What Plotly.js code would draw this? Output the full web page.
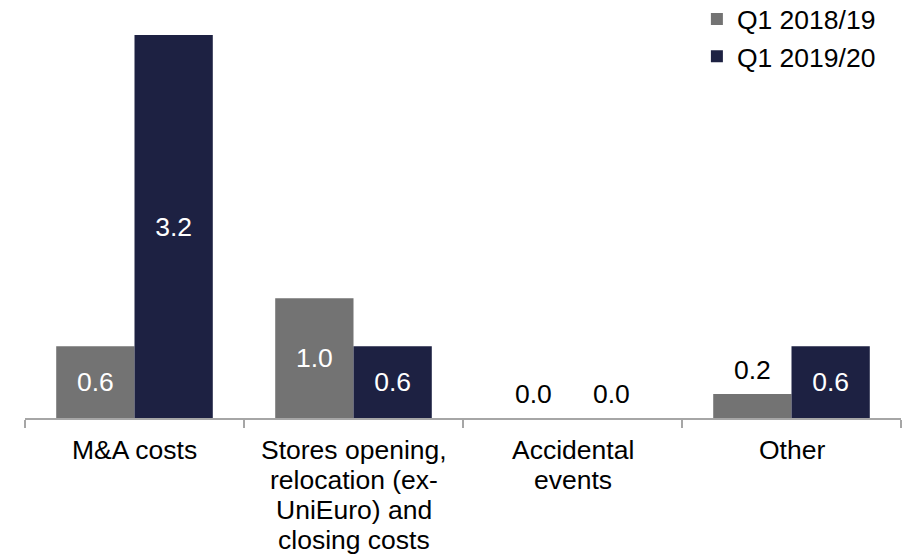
<!DOCTYPE html>
<html>
<head>
<meta charset="utf-8">
<script src="https://cdn.plot.ly/plotly-3.0.1.min.js"></script>
<style>html,body{margin:0;padding:0;background:#fff;}#chart{width:912px;height:557px;}</style>
</head>
<body>
<div id="chart"></div>
<script>
var categories = ["M&A costs", "Stores opening,<br>relocation (ex-<br>UniEuro) and<br>closing costs", "Accidental<br>events", "Other"];
var seriesNames = ["Q1 2018/19", "Q1 2019/20"];
var q1_2018_19 = [0.6, 1.0, 0.0, 0.2];
var q1_2019_20 = [3.2, 0.6, 0.0, 0.6];

var colors = ["#737373", "#1D2142"];
var FONT = "Liberation Sans, Arial, sans-serif";
var FS = 26.5;
var threshold = 0.4;
var bargap = 0.285;
var half = (1 - bargap) / 4;

var allSeries = [q1_2018_19, q1_2019_20];
var traces = allSeries.map(function (vals, s) {
  return {
    type: "bar",
    name: seriesNames[s],
    x: categories,
    y: vals,
    marker: {color: colors[s], line: {width: 0}},
    text: vals.map(function (v) { return v >= threshold ? v.toFixed(1) : ""; }),
    textposition: "inside",
    insidetextanchor: "middle",
    textfont: {family: FONT, size: FS, color: "#ffffff"},
    cliponaxis: false,
    hoverinfo: "none"
  };
});

var annotations = [];
// value labels for small bars, above the bar
allSeries.forEach(function (vals, s) {
  vals.forEach(function (v, i) {
    if (v < threshold) {
      annotations.push({
        x: i + (s === 0 ? -half : half),
        y: v,
        xref: "x", yref: "y",
        text: v.toFixed(1),
        showarrow: false,
        yanchor: "bottom",
        yshift: 7,
        font: {family: FONT, size: FS, color: "#000000"}
      });
    }
  });
});
// category labels (tight line spacing), one annotation per line
categories.forEach(function (c, i) {
  c.split("<br>").forEach(function (line, k) {
    annotations.push({
      x: i, y: 0, xref: "x", yref: "y",
      text: line,
      showarrow: false,
      yanchor: "middle",
      yshift: -(32 + 30 * k),
      font: {family: FONT, size: FS, color: "#000000"}
    });
  });
});

var layout = {
  width: 912, height: 557,
  margin: {l: 25, r: 11, t: 35, b: 139, autoexpand: false},
  paper_bgcolor: "#ffffff",
  plot_bgcolor: "#ffffff",
  barmode: "group",
  bargap: bargap,
  bargroupgap: 0,
  showlegend: true,
  legend: {
    x: 0.767, y: 1.104, xanchor: "left", yanchor: "top",
    xref: "paper", yref: "paper",
    font: {family: FONT, size: FS, color: "#000000"},
    traceorder: "normal",
    bgcolor: "rgba(0,0,0,0)",
    itemwidth: 30
  },
  xaxis: {
    type: "category",
    showline: true, linecolor: "#A6A6A6", linewidth: 1.5,
    ticks: "outside", tickson: "boundaries", ticklen: 8, tickcolor: "#A6A6A6", tickwidth: 1.5,
    showticklabels: false,
    showgrid: false, zeroline: false, fixedrange: true
  },
  yaxis: {
    range: [0, 3.2],
    visible: false, showgrid: false, zeroline: false, fixedrange: true
  },
  annotations: annotations,
  font: {family: FONT, size: FS, color: "#000000"}
};

Plotly.newPlot("chart", traces, layout, {displayModeBar: false, staticPlot: true});
</script>
</body>
</html>
